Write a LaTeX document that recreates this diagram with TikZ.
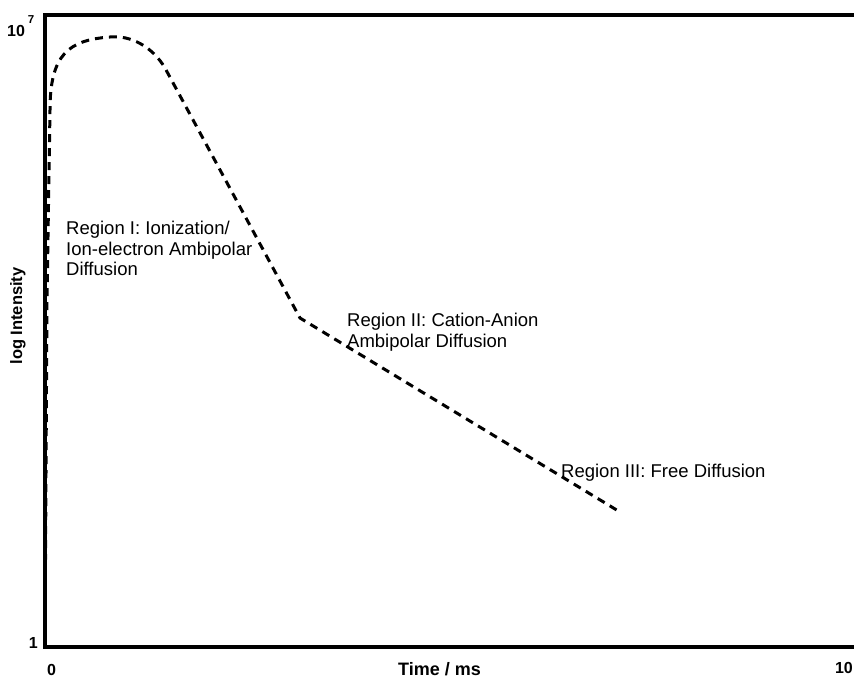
\documentclass[tikz,border=0pt]{standalone}
\usepackage{fontspec}
\setmainfont{Liberation Sans}

\begin{document}
\begin{tikzpicture}[x=1pt,y=-1pt,
    axis/.style={line width=3.6pt,line join=miter},
    decay/.style={line width=3pt,dash pattern=on 8pt off 6pt},
    tick/.style={font=\fontsize{16}{16}\selectfont\bfseries,inner sep=0pt},
    axislabel/.style={font=\fontsize{18}{18}\selectfont\bfseries,inner sep=0pt},
    region/.style={font=\fontsize{18.5}{20.5}\selectfont,align=left,anchor=base west,inner sep=0pt}]
    \useasboundingbox (0,0) rectangle (854,679);

    \coordinate (tr) at (860,15);
    \coordinate (tl) at (44.7,15);
    \coordinate (bl) at (44.7,647);
    \coordinate (br) at (860,647);
    \draw[axis] (tr) -- (tl) -- (bl) -- (br);

    \coordinate (c0) at (45,646);
    \coordinate (c1) at (50,110);
    \coordinate (peak) at (110,37);
    \coordinate (c2) at (165,68);
    \coordinate (knee) at (300,318);
    \coordinate (c3) at (620,512);
    \draw[decay]
      (c0) -- (47,300) -- (c1)
      .. controls (50,55) and (68,40) .. (peak)
      .. controls (130,35) and (152,46) .. (c2)
      -- (knee) -- (c3);

    \node[tick,anchor=base west] (ymax) at (7,37) {10\hspace{3pt}\raisebox{13pt}{\fontsize{11.5}{11.5}\selectfont 7}};
    \node[tick,anchor=base east] (ymin) at (38,648) {1};
    \node[tick,anchor=base west] (xmin) at (47,675) {0};
    \node[tick,anchor=base east] (xmax) at (853,673) {10};
    \node[axislabel,anchor=base west] (xlab) at (398,675) {Time / ms};
    \node[axislabel,anchor=base,rotate=90,font=\fontsize{16.5}{16.5}\selectfont\bfseries] (ylab) at (22,316) {log Intensity};

    \node[region] (regI) at (66,276) {Region I: Ionization/\\Ion-electron Ambipolar\\Diffusion};
    \node[region] (regII) at (347,347) {Region II: Cation-Anion\\Ambipolar Diffusion};
    \node[region] (regIII) at (561,477) {Region III: Free Diffusion};
  \end{tikzpicture}
\end{document}
